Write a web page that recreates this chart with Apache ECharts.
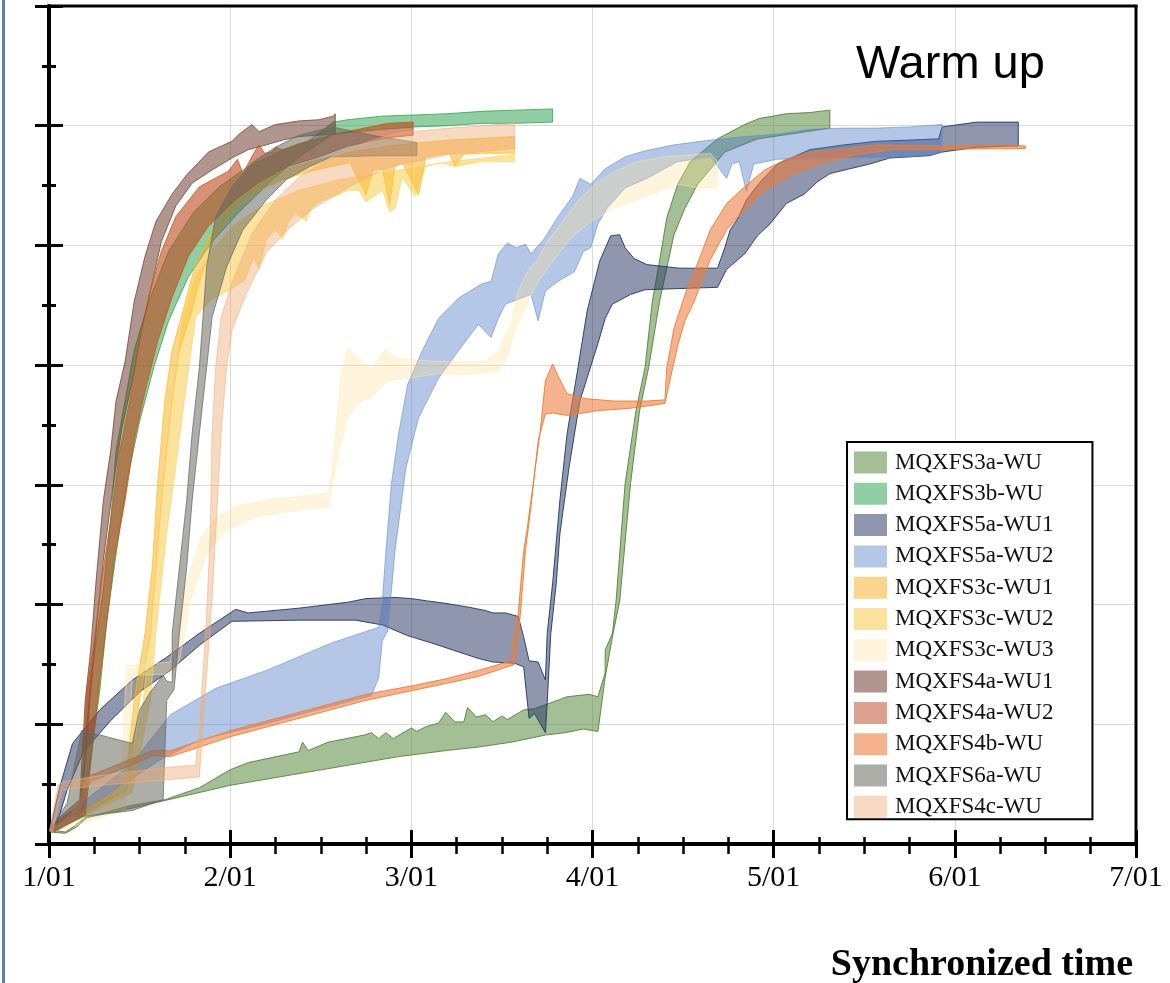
<!DOCTYPE html>
<html><head><meta charset="utf-8">
<script src="https://cdn.jsdelivr.net/npm/echarts@6/dist/echarts.min.js"></script>
<style>html,body{margin:0;padding:0;background:#fff}#chart{width:1170px;height:983px}</style>
</head><body><div id="chart"></div>
<script>
const tickLabels = ['1/01','2/01','3/01','4/01','5/01','6/01','7/01'];
const seriesNames = ['MQXFS3a-WU','MQXFS3b-WU','MQXFS5a-WU1','MQXFS5a-WU2','MQXFS3c-WU1','MQXFS3c-WU2','MQXFS3c-WU3','MQXFS4a-WU1','MQXFS4a-WU2','MQXFS4b-WU','MQXFS6a-WU','MQXFS4c-WU'];

// x: months after 1/01, y: unlabeled axis units. Each band = upper edge + lower edge.
const s3a_upper = [[0.005,0.12],[0.09,0.1],[0.14,0.15],[0.2,0.22],[0.45,0.32],[0.64,0.37],[0.83,0.47],[1.0,0.62],[1.1,0.68],[1.38,0.77],[1.4,0.85],[1.43,0.78],[1.54,0.85],[1.74,0.91],[1.78,0.93],[1.82,0.88],[1.86,0.93],[1.9,0.88],[2.0,0.97],[2.03,0.94],[2.08,0.98],[2.15,1.01],[2.19,1.1],[2.24,1.02],[2.29,1.02],[2.31,1.14],[2.36,1.06],[2.41,1.08],[2.45,1.02],[2.5,1.07],[2.53,1.04],[2.62,1.12],[2.68,1.13],[2.77,1.18],[2.86,1.23],[2.98,1.25],[3.03,1.23],[3.07,1.43],[3.07,1.62],[3.11,1.76],[3.13,2.03],[3.18,3.01],[3.24,3.62],[3.29,3.98],[3.33,4.53],[3.37,4.87],[3.41,5.23],[3.47,5.51],[3.54,5.7],[3.69,5.89],[3.84,6.01],[3.92,6.06],[4.07,6.1],[4.2,6.11],[4.31,6.13]];
const s3a_lower = [[0.005,0.1],[0.09,0.09],[0.15,0.14],[0.21,0.22],[0.46,0.3],[1.0,0.49],[1.93,0.73],[2.19,0.78],[2.37,0.81],[2.55,0.85],[2.74,0.91],[2.85,0.93],[2.95,0.96],[3.03,0.94],[3.07,1.39],[3.11,1.73],[3.15,2.03],[3.21,3.01],[3.26,3.62],[3.31,3.98],[3.37,4.53],[3.45,5.09],[3.51,5.31],[3.58,5.51],[3.73,5.78],[3.91,5.89],[4.09,5.93],[4.31,5.98]];

const s3b_upper = [[0.005,0.12],[0.07,0.22],[0.17,0.32],[0.23,1.34],[0.26,1.7],[0.3,2.12],[0.34,2.7],[0.37,3.28],[0.41,3.62],[0.47,4.12],[0.55,4.53],[0.66,4.95],[0.8,5.28],[0.94,5.49],[1.1,5.66],[1.27,5.78],[1.43,5.87],[1.57,6.03],[1.65,6.05],[1.84,6.08],[2.02,6.09],[2.2,6.1],[2.39,6.12],[2.57,6.13],[2.78,6.14]];
const s3b_lower = [[0.02,0.1],[0.09,0.18],[0.19,0.27],[0.28,1.28],[0.32,1.87],[0.38,2.53],[0.43,3.03],[0.5,3.53],[0.58,3.99],[0.66,4.37],[0.77,4.74],[0.9,5.03],[1.05,5.28],[1.22,5.53],[1.38,5.74],[1.57,5.93],[1.84,5.97],[2.02,5.99],[2.2,6.0],[2.39,6.02],[2.57,6.02],[2.78,6.03]];

const s5a1_upper = [[0.005,0.12],[0.06,0.48],[0.13,0.84],[0.28,1.12],[0.46,1.37],[0.65,1.56],[0.83,1.76],[1.0,1.93],[1.03,1.96],[1.1,1.93],[1.38,1.97],[1.65,2.02],[1.75,2.05],[1.91,2.06],[2.0,2.05],[2.09,2.03],[2.19,2.01],[2.31,1.98],[2.41,1.95],[2.45,1.93],[2.52,1.93],[2.59,1.9],[2.62,1.73],[2.65,1.53],[2.7,1.52],[2.74,1.37],[2.75,1.76],[2.78,2.18],[2.82,2.87],[2.86,3.43],[2.92,3.98],[2.97,4.45],[3.04,4.87],[3.1,5.08],[3.15,5.09],[3.18,4.98],[3.23,4.89],[3.3,4.84],[3.48,4.81],[3.69,4.81],[3.73,4.98],[3.76,5.13],[3.8,5.22],[3.85,5.38],[3.92,5.52],[4.02,5.68],[4.2,5.8],[4.39,5.84],[4.57,5.87],[4.75,5.88],[4.91,5.89],[4.93,5.99],[5.12,6.03],[5.35,6.03]];
const s5a1_lower = [[0.03,0.1],[0.1,0.45],[0.19,0.77],[0.34,1.03],[0.5,1.27],[0.67,1.45],[0.83,1.66],[1.01,1.86],[1.38,1.87],[1.69,1.87],[1.84,1.83],[1.98,1.74],[2.11,1.68],[2.37,1.55],[2.45,1.52],[2.57,1.51],[2.62,1.48],[2.65,1.05],[2.68,1.09],[2.74,0.93],[2.75,1.18],[2.77,1.76],[2.8,2.18],[2.82,2.59],[2.87,3.14],[2.93,3.7],[3.03,4.18],[3.07,4.39],[3.11,4.51],[3.21,4.59],[3.29,4.63],[3.48,4.64],[3.69,4.65],[3.74,4.8],[3.84,4.93],[3.91,5.08],[3.98,5.18],[4.07,5.35],[4.17,5.43],[4.24,5.53],[4.31,5.6],[4.42,5.64],[4.53,5.68],[4.64,5.73],[4.75,5.74],[4.86,5.75],[4.93,5.78],[5.12,5.82],[5.3,5.83],[5.35,5.83]];

const s5a2_upper = [[0.005,0.12],[0.17,0.33],[0.45,0.66],[0.67,1.08],[0.92,1.3],[1.2,1.45],[1.56,1.68],[1.82,1.81],[1.84,2.03],[1.86,2.45],[1.89,3.01],[1.93,3.43],[1.98,3.84],[2.06,4.12],[2.15,4.39],[2.26,4.56],[2.39,4.68],[2.44,4.7],[2.48,4.93],[2.53,5.02],[2.58,4.98],[2.63,5.01],[2.66,4.93],[2.73,5.05],[2.81,5.24],[2.89,5.41],[2.93,5.56],[2.99,5.51],[3.07,5.64],[3.18,5.74],[3.29,5.79],[3.45,5.84],[3.65,5.88],[3.84,5.91],[4.02,5.93],[4.2,5.97],[4.39,5.98],[4.57,5.98],[4.75,5.99],[4.93,6.01]];
const s5a2_lower = [[0.005,0.1],[0.28,0.37],[0.61,0.7],[0.83,0.87],[1.16,0.99],[1.38,1.08],[1.78,1.24],[1.82,1.39],[1.84,1.7],[1.87,1.78],[1.91,2.45],[1.97,3.14],[2.04,3.56],[2.15,3.89],[2.26,4.12],[2.37,4.34],[2.44,4.23],[2.48,4.39],[2.52,4.51],[2.66,4.59],[2.7,4.37],[2.74,4.62],[2.81,4.7],[2.9,4.78],[2.95,4.95],[2.99,4.98],[3.03,5.18],[3.08,5.31],[3.18,5.48],[3.3,5.56],[3.47,5.7],[3.65,5.74],[3.7,5.64],[3.74,5.56],[3.77,5.68],[3.81,5.7],[3.85,5.45],[3.89,5.68],[4.02,5.72],[4.39,5.73],[4.75,5.74],[4.88,5.76],[4.93,5.78]];

const s3c1_upper = [[0.005,0.12],[0.42,0.49],[0.47,1.2],[0.53,1.76],[0.57,2.31],[0.6,3.02],[0.64,3.71],[0.68,4.13],[0.73,4.4],[0.8,4.8],[0.89,5.09],[1.0,5.34],[1.13,5.52],[1.29,5.63],[1.47,5.71],[1.66,5.78],[1.93,5.84],[2.21,5.88],[2.57,5.91]];
const s3c1_lower = [[0.02,0.1],[0.43,0.45],[0.5,1.2],[0.56,1.76],[0.59,2.31],[0.63,3.02],[0.68,3.71],[0.72,4.13],[0.78,4.4],[0.83,4.69],[0.92,5.09],[1.03,5.32],[1.16,5.46],[1.29,5.55],[1.47,5.63],[1.66,5.69],[1.75,5.42],[1.79,5.63],[1.84,5.64],[1.88,5.34],[1.91,5.66],[1.95,5.69],[2.04,5.42],[2.08,5.74],[2.21,5.77],[2.24,5.66],[2.29,5.76],[2.39,5.77],[2.57,5.77]];

const s3c2_upper = [[0.005,0.12],[0.43,0.47],[0.52,1.2],[0.56,1.76],[0.59,2.31],[0.63,3.02],[0.67,3.54],[0.7,3.96],[0.74,4.4],[0.8,4.71],[0.9,4.96],[1.02,5.17],[1.19,5.34],[1.38,5.46],[1.6,5.55],[1.93,5.63],[2.21,5.7],[2.57,5.76]];
const s3c2_lower = [[0.02,0.1],[0.46,0.43],[0.56,1.2],[0.59,1.76],[0.65,2.6],[0.7,3.15],[0.76,3.85],[0.81,4.4],[0.89,4.54],[1.0,4.63],[1.08,4.71],[1.13,4.9],[1.16,4.8],[1.2,5.05],[1.25,5.13],[1.29,5.05],[1.32,5.19],[1.36,5.27],[1.42,5.2],[1.45,5.32],[1.51,5.38],[1.58,5.41],[1.65,5.46],[1.71,5.46],[1.75,5.36],[1.84,5.46],[1.88,5.28],[1.91,5.31],[1.95,5.57],[2.02,5.41],[2.08,5.66],[2.16,5.69],[2.24,5.66],[2.39,5.7],[2.57,5.7]];

const s3c3_upper = [[0.005,0.12],[0.39,0.37],[0.43,1.49],[0.67,1.52],[0.7,1.76],[0.76,2.18],[0.83,2.53],[0.92,2.73],[1.05,2.83],[1.23,2.88],[1.42,2.91],[1.54,2.93],[1.56,3.09],[1.61,3.89],[1.65,4.14],[1.78,3.97],[1.86,4.14],[1.91,4.06],[1.98,4.05],[2.15,4.03],[2.41,4.03],[2.48,4.12],[2.55,4.34],[2.59,4.62],[2.64,4.78],[2.7,4.89],[2.75,5.03],[2.85,5.23],[2.93,5.39],[3.03,5.53],[3.14,5.63],[3.25,5.7],[3.4,5.74],[3.58,5.76],[3.65,5.77],[3.69,5.7],[3.69,5.62]];
const s3c3_lower = [[0.02,0.1],[0.42,0.28],[0.46,1.41],[0.68,1.42],[0.72,1.53],[0.78,2.03],[0.87,2.43],[0.98,2.62],[1.14,2.73],[1.42,2.8],[1.54,2.81],[1.6,3.28],[1.65,3.56],[1.7,3.68],[1.78,3.73],[1.87,3.87],[1.98,3.89],[2.15,3.93],[2.3,3.92],[2.48,3.95],[2.53,4.06],[2.57,4.28],[2.63,4.48],[2.7,4.7],[2.79,4.89],[2.88,5.06],[2.99,5.2],[3.12,5.31],[3.26,5.39],[3.4,5.47],[3.48,5.51],[3.58,5.48],[3.69,5.48]];

const s4a1_upper = [[0.005,0.12],[0.07,0.24],[0.17,0.37],[0.2,1.2],[0.23,1.62],[0.26,2.2],[0.3,2.87],[0.34,3.28],[0.37,3.7],[0.42,4.03],[0.47,4.53],[0.53,4.91],[0.59,5.2],[0.68,5.43],[0.76,5.59],[0.88,5.78],[1.01,5.87],[1.05,5.93],[1.12,6.01],[1.16,5.95],[1.25,6.01],[1.38,6.04],[1.49,6.05],[1.57,6.08],[1.58,6.1]];
const s4a1_lower = [[0.02,0.1],[0.09,0.24],[0.18,0.33],[0.23,1.28],[0.26,1.78],[0.3,2.37],[0.35,2.95],[0.4,3.45],[0.46,3.87],[0.51,4.28],[0.62,5.03],[0.7,5.33],[0.79,5.52],[0.9,5.63],[1.01,5.73],[1.1,5.8],[1.2,5.84],[1.29,5.88],[1.38,5.91],[1.58,5.93]];

const s4a2_upper = [[0.005,0.12],[0.08,0.22],[0.18,0.33],[0.21,1.28],[0.25,1.7],[0.29,2.2],[0.34,2.7],[0.39,3.28],[0.45,3.74],[0.5,4.2],[0.55,4.57],[0.62,4.95],[0.7,5.24],[0.83,5.49],[0.99,5.62],[1.04,5.72],[1.07,5.6],[1.13,5.77],[1.16,5.84],[1.19,5.77],[1.23,5.78],[1.25,5.82],[1.29,5.8],[1.38,5.85],[1.58,5.93],[1.87,6.02],[2.01,6.03]];
const s4a2_lower = [[0.03,0.1],[0.12,0.18],[0.2,0.24],[0.28,1.37],[0.32,1.87],[0.36,2.37],[0.42,2.87],[0.47,3.37],[0.53,3.78],[0.6,4.2],[0.68,4.57],[0.77,4.91],[0.88,5.16],[1.02,5.37],[1.16,5.53],[1.32,5.66],[1.49,5.74],[1.65,5.83],[1.87,5.9],[2.01,5.92]];

const s4b_upper = [[0.005,0.12],[0.12,0.24],[0.17,0.37],[0.21,0.56],[0.57,0.78],[0.67,0.78],[1.01,0.95],[1.38,1.1],[1.75,1.25],[2.0,1.32],[2.19,1.38],[2.37,1.45],[2.55,1.53],[2.59,1.93],[2.62,2.45],[2.64,2.64],[2.67,2.98],[2.71,3.43],[2.74,3.87],[2.78,4.01],[2.81,3.91],[2.86,3.76],[2.96,3.72],[3.12,3.7],[3.3,3.7],[3.4,3.71],[3.41,3.98],[3.45,4.31],[3.52,4.63],[3.58,4.85],[3.65,5.13],[3.74,5.35],[3.84,5.49],[3.95,5.63],[4.07,5.72],[4.2,5.78],[4.39,5.81],[4.57,5.84],[4.93,5.83],[5.3,5.84],[5.39,5.83]];
const s4b_lower = [[0.02,0.1],[0.13,0.2],[0.18,0.33],[0.23,0.52],[0.58,0.74],[0.67,0.73],[1.01,0.9],[1.38,1.05],[1.75,1.2],[2.0,1.28],[2.19,1.34],[2.37,1.4],[2.57,1.5],[2.6,1.89],[2.63,2.45],[2.66,2.81],[2.7,3.37],[2.74,3.59],[2.78,3.6],[2.86,3.58],[3.03,3.62],[3.21,3.64],[3.4,3.68],[3.43,3.89],[3.47,4.16],[3.51,4.37],[3.56,4.53],[3.65,4.88],[3.74,5.13],[3.84,5.3],[3.96,5.47],[4.11,5.6],[4.29,5.7],[4.47,5.76],[4.66,5.8],[5.39,5.81]];

const s6a_upper = [[0.005,0.12],[0.1,0.34],[0.18,0.95],[0.46,0.84],[0.5,1.12],[0.56,1.27],[0.63,1.41],[0.65,1.36],[0.68,1.35],[0.68,1.76],[0.72,2.31],[0.76,2.87],[0.79,3.43],[0.83,3.98],[0.85,4.4],[0.87,4.82],[0.92,5.24],[1.01,5.49],[1.12,5.69],[1.25,5.82],[1.38,5.92],[1.56,5.99],[1.82,5.91],[2.03,5.86]];
const s6a_lower = [[0.02,0.1],[0.19,0.23],[0.46,0.28],[0.63,0.37],[0.65,1.2],[0.69,1.29],[0.72,1.76],[0.76,2.31],[0.79,2.87],[0.83,3.43],[0.87,3.98],[0.9,4.4],[0.98,4.82],[1.07,5.13],[1.2,5.38],[1.31,5.55],[1.44,5.66],[1.56,5.74],[1.82,5.75],[2.03,5.75]];

const s4c_upper = [[0.005,0.12],[0.05,0.49],[0.08,0.52],[0.28,0.57],[0.65,0.64],[0.81,0.66],[0.84,1.2],[0.87,1.9],[0.89,2.6],[0.9,3.43],[0.92,3.98],[0.95,4.4],[1.01,4.69],[1.12,5.1],[1.25,5.38],[1.38,5.57],[1.56,5.74],[1.75,5.86],[1.93,5.94],[2.21,5.98],[2.57,6.02]];
const s4c_lower = [[0.02,0.1],[0.07,0.45],[0.28,0.49],[0.83,0.56],[0.86,1.2],[0.9,2.04],[0.92,2.6],[0.95,3.43],[0.98,3.98],[1.01,4.29],[1.09,4.6],[1.2,4.94],[1.33,5.15],[1.47,5.32],[1.66,5.49],[1.84,5.63],[1.93,5.67],[2.21,5.76],[2.57,5.81]];

const bands = [[s3a_upper,s3a_lower],[s3b_upper,s3b_lower],[s5a1_upper,s5a1_lower],[s5a2_upper,s5a2_lower],[s3c1_upper,s3c1_lower],[s3c2_upper,s3c2_lower],[s3c3_upper,s3c3_lower],[s4a1_upper,s4a1_lower],[s4a2_upper,s4a2_lower],[s4b_upper,s4b_lower],[s6a_upper,s6a_lower],[s4c_upper,s4c_lower]];

const fills = ['rgba(90,138,64,0.55)','rgba(44,162,78,0.52)','rgba(31,45,92,0.5)','rgba(68,114,196,0.4)','rgba(247,172,30,0.5)','rgba(250,200,60,0.5)','rgba(252,225,150,0.33)','rgba(100,50,35,0.51)','rgba(190,70,30,0.6)','rgba(237,122,60,0.58)','rgba(100,100,90,0.52)','rgba(238,165,110,0.42)'];
const legendFills = ['rgba(90,138,64,0.55)','rgba(44,162,78,0.52)','rgba(31,45,92,0.5)','rgba(68,114,196,0.4)','rgba(247,172,30,0.5)','rgba(250,200,60,0.5)','rgba(252,225,150,0.33)','rgba(100,50,35,0.51)','rgba(185,70,35,0.5)','rgba(237,122,60,0.58)','rgba(100,100,90,0.52)','rgba(238,165,110,0.42)'];
const strokes = ['rgba(84,130,53,0.9)','rgba(40,167,69,0.8)','rgba(31,56,100,0.9)','rgba(100,140,210,0.6)','rgba(255,192,0,0.7)','rgba(255,210,90,0.6)','rgba(255,235,180,0.5)','rgba(120,70,50,0.8)','rgba(197,90,17,0.8)','rgba(237,125,49,0.9)','rgba(110,110,110,0.8)','rgba(244,177,131,0.6)'];

function makeBand(i){
  const up = bands[i][0], lo = bands[i][1];
  return {
    type:'custom', name: seriesNames[i], coordinateSystem:'cartesian2d',
    xAxisIndex:0, yAxisIndex:0,
    data: up.concat(lo), encode:{x:0,y:1},
    itemStyle:{color: legendFills[i]},
    silent:true, animation:false,
    renderItem: function(params, api){
      if (params.dataIndex !== 0) return null;
      const pts = up.map(p => api.coord(p)).concat(lo.slice().reverse().map(p => api.coord(p)));
      return {type:'polygon', shape:{points:pts}, style:{fill:fills[i], stroke:strokes[i], lineWidth:1, lineJoin:'round'}};
    }
  };
}

const chart = echarts.init(document.getElementById('chart'), null, {renderer:'canvas'});
chart.setOption({
  animation:false,
  backgroundColor:'#fff',
  grid:{left:49, right:34, top:6, bottom:139, containLabel:false},
  title:{text:'Warm up', left:856, top:42, padding:0, textStyle:{fontFamily:'Liberation Sans', fontSize:47, fontWeight:'normal', color:'#000'}},
  legend:{
    orient:'vertical', left:847, top:442, padding:[9,39,1,7],
    borderColor:'#000', borderWidth:2, backgroundColor:'#fff',
    icon:'rect', itemWidth:33, itemHeight:22, itemGap:8.3, selectedMode:false,
    textStyle:{fontFamily:'Liberation Serif', fontSize:23, color:'#111', padding:[0,0,0,3]},
    data: seriesNames.map((n,i)=>({name:n, itemStyle:{color:legendFills[i], borderWidth:0}}))
  },
  xAxis:[
    {type:'value', min:0, max:6, interval:1, position:'bottom',
     axisLine:{show:true, onZero:false, lineStyle:{color:'#000', width:4}},
     axisTick:{show:true, length:14, lineStyle:{color:'#000', width:3}},
     minorTick:{show:true, splitNumber:4, length:10, lineStyle:{color:'#000', width:2.5}},
     splitLine:{show:true, lineStyle:{color:'#d9d9d9', width:1}},
     axisLabel:{formatter: v => tickLabels[v], fontFamily:'Liberation Serif', fontSize:30, color:'#000', margin:19}},
    {type:'value', min:0, max:6, interval:1, position:'bottom',
     axisLine:{show:false, onZero:false},
     axisTick:{show:true, inside:true, length:14, lineStyle:{color:'#000', width:3}},
     minorTick:{show:true, splitNumber:4, length:7, lineStyle:{color:'#000', width:2.5}},
     splitLine:{show:false}, axisLabel:{show:false}}
  ],
  yAxis:[
    {type:'value', min:0, max:7, interval:1, position:'left',
     axisLine:{show:true, onZero:false, lineStyle:{color:'#000', width:4}},
     axisTick:{show:true, length:14, lineStyle:{color:'#000', width:3}},
     minorTick:{show:true, splitNumber:2, length:7, lineStyle:{color:'#000', width:3}},
     splitLine:{show:true, lineStyle:{color:'#d9d9d9', width:1}},
     axisLabel:{show:false}},
    {type:'value', min:0, max:7, interval:1, position:'left',
     axisLine:{show:false, onZero:false},
     axisTick:{show:true, inside:true, length:14, lineStyle:{color:'#000', width:3}},
     minorTick:{show:true, splitNumber:2, length:7, lineStyle:{color:'#000', width:3}},
     splitLine:{show:false}, axisLabel:{show:false}}
  ],
  graphic:[
    {type:'line', shape:{x1:3.5, y1:0, x2:3.5, y2:983}, style:{stroke:'#5b7fb5', lineWidth:3}, z:100},
    {type:'line', shape:{x1:47, y1:6, x2:1137.5, y2:6}, style:{stroke:'#000', lineWidth:3}, z:100},
    {type:'line', shape:{x1:1136, y1:5, x2:1136, y2:844}, style:{stroke:'#000', lineWidth:3}, z:100},
    {type:'text', right:37, top:946, style:{text:'Synchronized time', font:'bold 38px "Liberation Serif"', fill:'#000'}, z:100}
  ],
  series: seriesNames.map((n,i)=>makeBand(i))
});
</script></body></html>
